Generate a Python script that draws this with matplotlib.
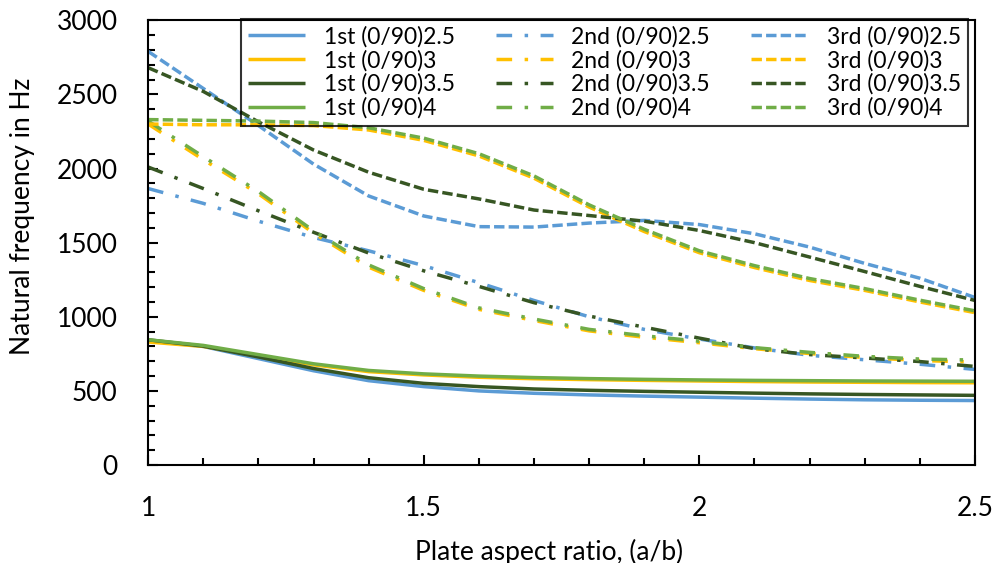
import numpy as np
import matplotlib
matplotlib.use("Agg")
import matplotlib.pyplot as plt
from matplotlib.ticker import MultipleLocator

plt.rcParams['font.family'] = ['Lato', 'DejaVu Sans']

# plate aspect ratio a/b
ratio = [1.0, 1.1, 1.2, 1.3, 1.4, 1.5, 1.6, 1.7, 1.8, 1.9, 2.0, 2.1, 2.2, 2.3, 2.4, 2.5]

# 1st mode
first_25 = [840, 800, 718, 636, 569, 529, 500, 484, 473, 465, 458, 451, 445, 440, 437, 435]
first_3 = [830, 800, 738, 676, 630, 608, 592, 582, 576, 571, 567, 563, 560, 558, 556, 555]
first_35 = [845, 802, 729, 651, 589, 551, 529, 513, 504, 497, 491, 485, 480, 476, 473, 470]
first_4 = [845, 807, 745, 683, 638, 615, 600, 590, 583, 578, 574, 571, 569, 567, 566, 565]

# 2nd mode
second_25 = [1865, 1765, 1645, 1535, 1445, 1345, 1230, 1110, 1000, 915, 850, 790, 740, 710, 680, 645]
second_3 = [2300, 2060, 1830, 1565, 1335, 1178, 1050, 975, 905, 862, 825, 785, 752, 725, 705, 695]
second_35 = [2010, 1865, 1715, 1570, 1430, 1310, 1205, 1095, 1005, 930, 856, 785, 745, 722, 698, 665]
second_4 = [2320, 2080, 1845, 1580, 1350, 1190, 1060, 985, 915, 872, 835, 792, 760, 733, 715, 708]

# 3rd mode
third_25 = [2790, 2540, 2290, 2030, 1815, 1680, 1608, 1605, 1632, 1650, 1622, 1560, 1470, 1360, 1260, 1130]
third_3 = [2300, 2295, 2295, 2290, 2260, 2190, 2085, 1935, 1740, 1575, 1432, 1332, 1245, 1178, 1100, 1028]
third_35 = [2680, 2520, 2315, 2125, 1975, 1860, 1795, 1720, 1683, 1645, 1582, 1500, 1403, 1305, 1205, 1110]
third_4 = [2330, 2325, 2320, 2310, 2275, 2205, 2100, 1950, 1755, 1590, 1445, 1345, 1258, 1190, 1112, 1040]

thick = ['2.5', '3', '3.5', '4']
colors = ['#5B9BD5', '#FFC000', '#375623', '#70AD47']

modes = [
    ('1st', [first_25, first_3, first_35, first_4], '-'),
    ('2nd', [second_25, second_3, second_35, second_4], (0, (4.5, 3.6, 1, 3.6))),
    ('3rd', [third_25, third_3, third_35, third_4], (0, (3, 1.2))),
]

fig = plt.figure(figsize=(10.01, 5.63), dpi=100)
ax = fig.add_axes([0.148, 0.174, 0.826, 0.79])

for name, series, ls in modes:
    for vals, t, c in zip(series, thick, colors):
        ax.plot(ratio, vals, color=c, lw=2.5, linestyle=ls,
                solid_capstyle='butt', dash_capstyle='butt',
                label='{} (0/90){}'.format(name, t))

ax.set_xlim(1, 2.5)
ax.set_ylim(0, 3000)
ax.xaxis.set_major_locator(MultipleLocator(0.5))
ax.xaxis.set_minor_locator(MultipleLocator(0.1))
ax.yaxis.set_major_locator(MultipleLocator(500))
ax.yaxis.set_minor_locator(MultipleLocator(100))
ax.set_xticks([1, 1.5, 2, 2.5])
ax.set_xticklabels(['1', '1.5', '2', '2.5'])

ax.tick_params(which='both', direction='in', width=1.5, labelsize=19)
ax.tick_params(which='major', length=7)
ax.tick_params(which='minor', length=5)
ax.tick_params(axis='x', which='major', pad=22)
ax.tick_params(axis='y', which='major', pad=22)
ax.tick_params(top=False, right=False, which='both')
for s in ax.spines.values():
    s.set_linewidth(1.5)
    s.set_color('black')

ax.set_xlabel('Plate aspect ratio, (a/b)', fontsize=19)
ax.set_ylabel('Natural frequency in Hz', fontsize=19)
ax.xaxis.set_label_coords(0.485, -0.165)
ax.yaxis.set_label_coords(-0.137, 0.56)

# legend box is not filled: curves show through it
leg = ax.legend(loc='upper right', bbox_to_anchor=(0.9915, 1.003),
                ncol=3, fontsize=16.5, frameon=True,
                fancybox=False, edgecolor='black', facecolor='none',
                handlelength=2.5, handletextpad=0.8, labelspacing=0.1,
                borderpad=0.3, borderaxespad=0, columnspacing=1.8)
leg.get_frame().set_linewidth(1.5)

fig.savefig('out.png', dpi=100)
